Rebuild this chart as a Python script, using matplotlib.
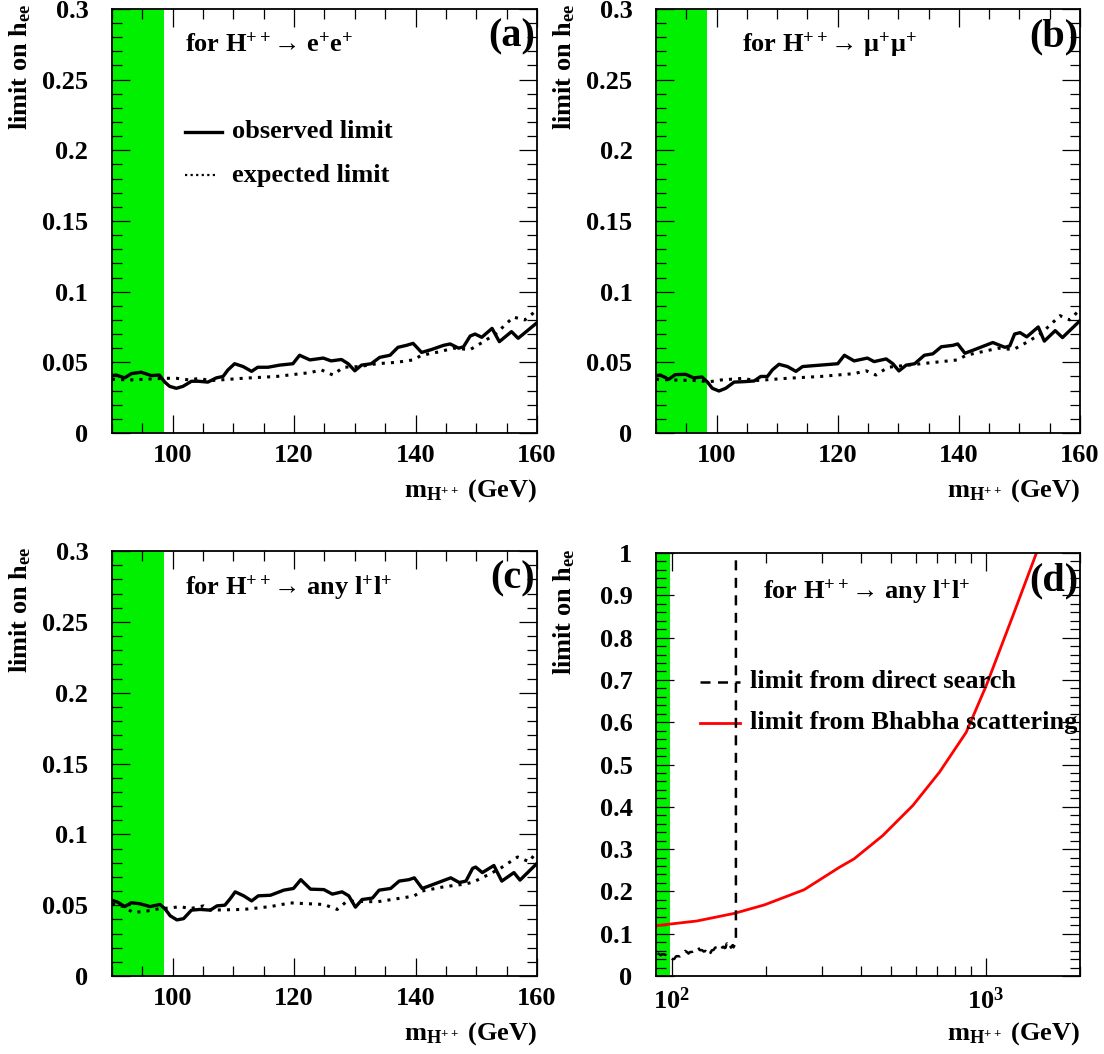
import math
import matplotlib
matplotlib.use("Agg")
import matplotlib.pyplot as plt
from matplotlib.ticker import MultipleLocator, FixedLocator, NullFormatter, FuncFormatter

plt.rcParams.update({
    "font.family": "Liberation Serif",
    "font.weight": "bold",
    "mathtext.fontset": "custom",
    "mathtext.rm": "Liberation Serif:bold",
    "mathtext.it": "Liberation Serif:bold",
    "mathtext.bf": "Liberation Serif:bold",
    "axes.linewidth": 1.3,
})

# (a) H++ -> e+e+
ee_obs_m = [90.0, 90.7, 92.1, 93.2, 94.8, 96.5, 97.8, 98.7, 99.5, 100.6, 101.7, 103.1, 104.2, 105.8,
            107.2, 108.3, 109.1, 110.2, 111.6, 113.0, 114.0, 115.7, 117.6, 119.8, 120.9, 122.6,
            124.8, 126.1, 127.8, 128.9, 130.0, 131.1, 132.7, 134.1, 135.8, 137.1, 138.5, 139.6,
            141.0, 142.6, 144.6, 145.7, 147.1, 147.9, 149.0, 149.8, 150.9, 152.6, 153.8, 155.8,
            156.9, 160.0]
ee_obs = [0.0406, 0.041, 0.039, 0.042, 0.043, 0.0406, 0.041, 0.036, 0.033, 0.0316, 0.033, 0.0366,
          0.0366, 0.036, 0.039, 0.040, 0.0446, 0.049, 0.047, 0.0436, 0.0465, 0.0465, 0.048, 0.049,
          0.055, 0.0517, 0.053, 0.051, 0.052, 0.049, 0.044, 0.048, 0.049, 0.0535, 0.055, 0.0606,
          0.062, 0.0634, 0.057, 0.059, 0.062, 0.063, 0.060, 0.061, 0.0686, 0.070, 0.0677, 0.074,
          0.0646, 0.0717, 0.067, 0.078]
ee_exp_m = [90.0, 92.9, 95.6, 98.7, 100.6, 102.8, 104.4, 106.1, 111.6, 117.1, 122.6, 124.5, 126.4,
            128.1, 130.8, 133.6, 136.9, 139.6, 141.0, 144.0, 146.2, 149.0, 151.2, 153.3, 156.1,
            158.0, 160.0]
ee_exp = [0.038, 0.0375, 0.038, 0.0387, 0.0387, 0.0375, 0.0387, 0.037, 0.0387, 0.040, 0.0427,
          0.0446, 0.041, 0.0465, 0.047, 0.049, 0.050, 0.0517, 0.055, 0.0575, 0.060, 0.059, 0.0646,
          0.0705, 0.082, 0.080, 0.087]

# (b) H++ -> mu+mu+
mm_obs_m = [90.0, 90.7, 92.1, 93.2, 94.9, 96.2, 97.6, 98.5, 99.3, 100.4, 101.5, 102.9, 104.5, 106.2,
            107.3, 108.4, 109.2, 110.3, 111.7, 113.1, 114.2, 120.0, 121.1, 122.7, 124.9, 126.0,
            128.0, 129.1, 130.1, 131.3, 132.7, 134.3, 135.7, 137.1, 139.0, 139.8, 141.0, 142.6,
            145.6, 147.6, 148.4, 149.2, 150.1, 151.2, 153.1, 154.1, 155.9, 157.1, 160.0]
mm_obs = [0.0406, 0.041, 0.038, 0.0413, 0.0415, 0.039, 0.0396, 0.036, 0.0316, 0.0297, 0.0316,
          0.036, 0.0363, 0.0368, 0.040, 0.040, 0.0446, 0.0486, 0.047, 0.0436, 0.047, 0.049, 0.055,
          0.051, 0.053, 0.0505, 0.0524, 0.049, 0.0439, 0.048, 0.049, 0.055, 0.056, 0.061, 0.062,
          0.063, 0.0564, 0.059, 0.064, 0.0606, 0.0616, 0.070, 0.071, 0.068, 0.075, 0.065, 0.0724,
          0.0675, 0.0795]
mm_exp_m = [90.0, 92.9, 97.4, 98.5, 100.7, 104.5, 106.2, 111.7, 117.2, 122.7, 124.7, 126.3, 128.3,
            133.8, 139.8, 141.2, 146.5, 149.0, 151.4, 153.6, 156.7, 158.3, 160.0]
mm_exp = [0.038, 0.0375, 0.037, 0.036, 0.0375, 0.0387, 0.037, 0.0387, 0.040, 0.042, 0.044, 0.041,
          0.0465, 0.049, 0.0517, 0.055, 0.060, 0.059, 0.0646, 0.0705, 0.083, 0.080, 0.0875]

# (c) H++ -> any l+l+
ll_obs_m = [90.0, 91.0, 92.1, 93.2, 94.6, 96.3, 97.9, 98.7, 99.6, 100.7, 101.8, 103.1, 104.5, 106.2,
            107.3, 108.6, 109.5, 110.3, 111.7, 113.0, 114.1, 116.1, 118.3, 119.9, 121.1, 122.7,
            124.9, 126.3, 127.9, 129.0, 130.1, 131.2, 132.9, 134.0, 135.9, 137.3, 138.9, 139.8,
            141.1, 142.5, 145.8, 147.2, 148.3, 149.4, 149.9, 151.0, 152.9, 154.2, 156.2, 157.2,
            160.0]
ll_obs = [0.0535, 0.052, 0.049, 0.0517, 0.051, 0.049, 0.0505, 0.0476, 0.0425, 0.0396, 0.0405,
          0.0465, 0.047, 0.0465, 0.0495, 0.050, 0.0547, 0.0594, 0.0566, 0.053, 0.0566, 0.057,
          0.0606, 0.0618, 0.068, 0.0613, 0.061, 0.0578, 0.0594, 0.0566, 0.0486, 0.054, 0.055,
          0.0606, 0.0618, 0.067, 0.068, 0.0693, 0.0618, 0.064, 0.0693, 0.066, 0.067, 0.076,
          0.0769, 0.073, 0.078, 0.067, 0.073, 0.0677, 0.0795]
ll_exp_m = [90.0, 91.9, 93.5, 95.7, 97.9, 99.6, 101.2, 102.9, 105.1, 106.2, 111.7, 116.1, 119.4,
            124.9, 127.1, 128.7, 133.7, 139.7, 141.1, 144.7, 148.3, 149.6, 152.4, 154.1, 156.8,
            158.7, 160.0]
ll_exp = [0.051, 0.049, 0.0448, 0.0458, 0.0476, 0.048, 0.049, 0.0476, 0.0495, 0.0465, 0.047,
          0.049, 0.0516, 0.0505, 0.047, 0.0528, 0.0524, 0.0564, 0.060, 0.063, 0.065, 0.0665,
          0.0724, 0.0764, 0.084, 0.0807, 0.088]

# (d) direct search vs Bhabha scattering
direct_m = ll_obs_m + [160.0]
direct = ll_obs + [1.0]
bhabha_m = [89, 120, 158, 197, 264, 342, 381, 470, 586, 713, 867, 1004, 1222, 1452]
bhabha = [0.119, 0.13, 0.148, 0.168, 0.204, 0.257, 0.277, 0.332, 0.403, 0.482, 0.576, 0.686,
          0.852, 1.0]

lep_excluded = 98.5
green = "#00f000"
fs = 19
tag_fs = 29
dotted = (0, (1, 2.0))


def style_axes(ax):
    ax.tick_params(which="both", direction="in", top=True, right=True, width=0.9,
                   labelsize=fs)
    ax.tick_params(which="major", length=13)
    ax.tick_params(which="minor", length=7)
    ax.tick_params(axis="y", pad=17)
    ax.tick_params(axis="x", pad=8)
    ax.yaxis.set_major_formatter(FuncFormatter(lambda v, p: f"{v:g}"))
    ax.text(-0.216, 1.012, r"limit on h$_{\rm ee}$", rotation=90, ha="center", va="top",
            fontsize=fs, transform=ax.transAxes)
    ax.text(1.0, -0.135, r"m$_{\mathrm{H}^{++}}$ (GeV)", ha="right", va="center",
            fontsize=fs, transform=ax.transAxes)


def mass_panel(ax, obs_m, obs, exp_m, exp, title, tag, title_x, legend=False):
    ax.axvspan(80, lep_excluded, color=green, lw=0, zorder=0)
    ax.plot(obs_m, obs, color="black", lw=2.4, zorder=3)
    ax.plot(exp_m, exp, color="black", lw=2.2, linestyle=dotted, zorder=2)
    ax.set_xlim(90, 160)
    ax.set_ylim(0, 0.3)
    ax.xaxis.set_major_locator(MultipleLocator(20))
    ax.xaxis.set_minor_locator(MultipleLocator(5))
    ax.yaxis.set_major_locator(MultipleLocator(0.05))
    ax.yaxis.set_minor_locator(MultipleLocator(0.01))
    style_axes(ax)
    ax.text(title_x, 0.915, title, ha="left", va="center", fontsize=fs, transform=ax.transAxes)
    ax.text(0.995, 0.935, tag, ha="right", va="center", fontsize=tag_fs, transform=ax.transAxes)
    if legend:
        ax.plot([0.172, 0.26], [0.71, 0.71], color="black", lw=2.4, transform=ax.transAxes)
        ax.plot([0.172, 0.25], [0.608, 0.608], color="black", lw=1.6, linestyle=(0, (1, 1.5)),
                transform=ax.transAxes)
        ax.text(0.282, 0.71, "observed limit", ha="left", va="center", fontsize=fs,
                transform=ax.transAxes)
        ax.text(0.282, 0.608, "expected limit", ha="left", va="center", fontsize=fs,
                transform=ax.transAxes)


fig = plt.figure(figsize=(11.04, 10.54), dpi=100)
ax_a = fig.add_axes([0.1014, 0.5892, 0.385, 0.4023])
ax_b = fig.add_axes([0.5942, 0.5892, 0.3841, 0.4023])
ax_c = fig.add_axes([0.1014, 0.0740, 0.385, 0.4032])
ax_d = fig.add_axes([0.5942, 0.0740, 0.3841, 0.4013])

mass_panel(ax_a, ee_obs_m, ee_obs, ee_exp_m, ee_exp,
           r"for H$^{++}$→ e$^{+}$e$^{+}$", "(a)", 0.172, legend=True)
mass_panel(ax_b, mm_obs_m, mm_obs, mm_exp_m, mm_exp,
           r"for H$^{++}$→ μ$^{+}$μ$^{+}$", "(b)", 0.203)
mass_panel(ax_c, ll_obs_m, ll_obs, ll_exp_m, ll_exp,
           r"for H$^{++}$→ any l$^{+}$l$^{+}$", "(c)", 0.172)

# panel (d)
ax = ax_d
ax.set_xscale("log")
ax.axvspan(80, lep_excluded, color=green, lw=0, zorder=0)
ax.plot(direct_m, direct, color="black", lw=1.8, linestyle=(0, (4, 3)), zorder=3)
ax.plot(bhabha_m, bhabha, color="#ff0000", lw=2.0, zorder=2)
ax.set_xlim(89, 2000)
ax.set_ylim(0, 1)
ax.xaxis.set_major_locator(FixedLocator([100, 1000]))
ax.xaxis.set_minor_locator(FixedLocator([200, 300, 400, 500, 600, 700, 800, 900, 2000]))
ax.xaxis.set_minor_formatter(NullFormatter())
ax.xaxis.set_major_formatter(FuncFormatter(lambda v, p: r"10$^{%d}$" % round(math.log10(v))))
ax.yaxis.set_major_locator(MultipleLocator(0.1))
ax.yaxis.set_minor_locator(MultipleLocator(0.02))
style_axes(ax)
ax.text(0.252, 0.908, r"for H$^{++}$→ any l$^{+}$l$^{+}$", ha="left", va="center", fontsize=fs,
        transform=ax.transAxes)
ax.text(0.995, 0.935, "(d)", ha="right", va="center", fontsize=tag_fs, transform=ax.transAxes)
ax.plot([0.104, 0.198], [0.696, 0.696], color="black", lw=1.8, linestyle=(0, (4, 3)),
        transform=ax.transAxes)
ax.plot([0.104, 0.198], [0.599, 0.599], color="#ff0000", lw=2.0, transform=ax.transAxes)
ax.text(0.222, 0.696, "limit from direct search", ha="left", va="center", fontsize=fs,
        transform=ax.transAxes)
ax.text(0.222, 0.599, "limit from Bhabha scattering", ha="left", va="center", fontsize=fs,
        transform=ax.transAxes)

fig.savefig("out.png", dpi=100)
